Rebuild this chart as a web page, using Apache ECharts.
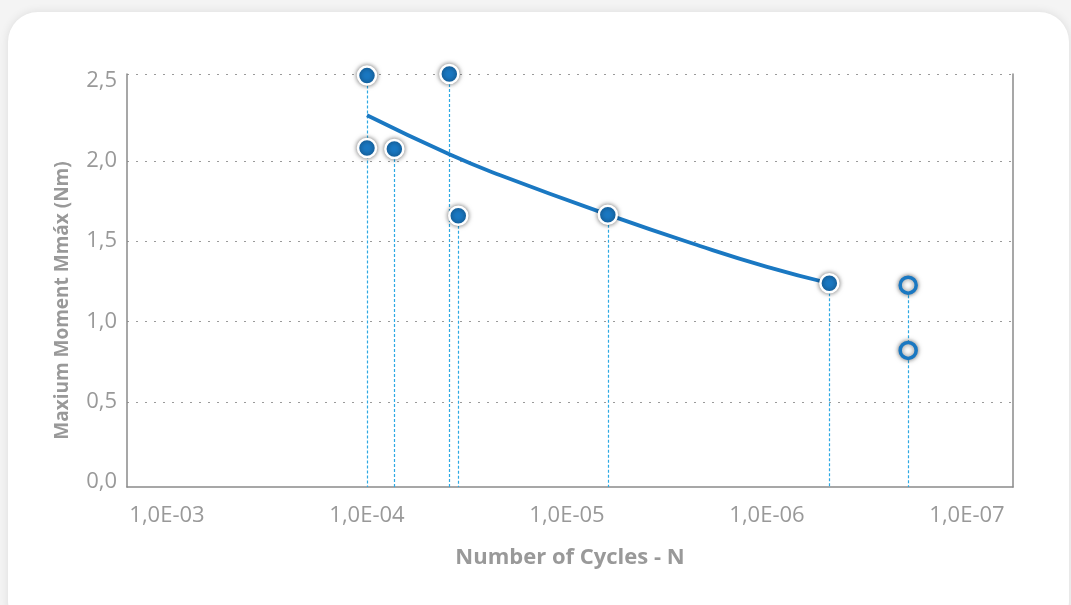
<!DOCTYPE html>
<html>
<head>
<meta charset="utf-8">
<script src="https://cdn.jsdelivr.net/npm/echarts@6/dist/echarts.min.js"></script>
<style>
  html, body { margin: 0; padding: 0; width: 1071px; height: 605px; overflow: hidden; background: #f4f4f4; }
  #card { position: absolute; left: 8px; top: 12px; width: 1061px; height: 620px; background: #ffffff;
          border-radius: 30px; box-shadow: 0 0 10px rgba(0,0,0,0.10); }
  #chart { position: absolute; left: 0; top: 0; width: 1071px; height: 605px; }
</style>
</head>
<body>
<div id="card"></div>
<div id="chart"></div>
<script>
// ---- data ----
// Failure points (filled markers): number of cycles N, maximum moment (Nm)
const failN = [10000, 10000, 13700, 25800, 28600, 160000, 2050000];
const failM = [2.53, 2.08, 2.073, 2.54, 1.658, 1.664, 1.238];
// Run-out points (open markers)
const runoutN = [5080000, 5080000];
const runoutM = [1.226, 0.82];
// Fitted curve, read at several positions along the drawn line
const curveN = [10000, 25800, 46400, 160000, 462000, 1000000, 2050000];
const curveM = [2.283, 2.04, 1.91, 1.665, 1.47, 1.34, 1.238];
// Axis ticks / labels
const xTickExp = [3, 4, 5, 6, 7];
const xTickLabels = ['1,0E-03', '1,0E-04', '1,0E-05', '1,0E-06', '1,0E-07'];
const yTicks = [0, 0.5, 1.0, 1.5, 2.0, 2.5];
const yTickLabels = ['0,0', '0,5', '1,0', '1,5', '2,0', '2,5'];
const yGridLines = [0.5, 1.0, 1.5, 2.0, 2.54];
const xRange = [2.8, 7.23];     // log10(N) extent of the plot
const yRange = [-0.03, 2.54];   // moment extent of the plot

const lg = v => Math.log10(v);
const pairs = (ns, ms) => ns.map((n, i) => [lg(n), ms[i]]);

const blue = '#1a78c2';
const grey = '#999999';
const font = 'Open Sans';

// one drop line per distinct N, from its highest point down to the x axis
const tops = {};
pairs(failN, failM).concat(pairs(runoutN, runoutM)).forEach(p => {
  const k = p[0].toFixed(4);
  if (!(k in tops) || tops[k][1] < p[1]) tops[k] = p;
});
const dropLines = Object.values(tops).map(p => [
  { coord: [p[0], p[1]] }, { coord: [p[0], yRange[0]] }
]);

const chart = echarts.init(document.getElementById('chart'), null, { renderer: 'canvas' });
chart.setOption({
  animation: false,
  backgroundColor: 'transparent',
  grid: { left: 127, right: 58, top: 74, bottom: 118 },
  xAxis: {
    type: 'value', min: xRange[0], max: xRange[1],
    name: 'Number of Cycles - N', nameLocation: 'middle', nameGap: 60,
    nameTextStyle: { color: grey, fontFamily: font, fontSize: 22, fontWeight: 'bold' },
    axisLine: { show: true, onZero: false, lineStyle: { color: '#8a8a8a', width: 1.5 } },
    axisTick: { show: false },
    splitLine: { show: false },
    axisLabel: {
      customValues: xTickExp, margin: 18, color: grey, fontFamily: font, fontSize: 22,
      formatter: v => xTickLabels[xTickExp.indexOf(Math.round(v))]
    }
  },
  yAxis: [{
    type: 'value', min: yRange[0], max: yRange[1],
    name: 'Maxium Moment Mmáx (Nm)', nameLocation: 'middle', nameGap: 55, nameRotate: 90,
    nameTextStyle: { color: grey, fontFamily: font, fontSize: 19, fontWeight: 'bold', padding: [0, 40, 0, 0] },
    axisLine: { show: true, onZero: false, lineStyle: { color: '#8a8a8a', width: 1.5 } },
    axisTick: { show: false, customValues: yGridLines },
    axisLabel: {
      customValues: yTicks, margin: 10, color: grey, fontFamily: font, fontSize: 22,
      formatter: v => yTickLabels[yTicks.indexOf(Math.round(v * 2) / 2)]
    },
    splitLine: { show: true, lineStyle: { color: '#9a9a9a', width: 1, type: [2, 7] } }
  }, {
    type: 'value', min: yRange[0], max: yRange[1], position: 'right',
    axisLine: { show: true, onZero: false, lineStyle: { color: '#8a8a8a', width: 1.5 } },
    axisTick: { show: false }, axisLabel: { show: false }, splitLine: { show: false }
  }],
  series: [
    {
      type: 'scatter', data: [], z: 1, silent: true,
      markLine: {
        z: 1, silent: true, symbol: ['none', 'none'], label: { show: false },
        lineStyle: { color: '#2ea9e3', width: 1.2, type: [3, 2], opacity: 1 },
        emphasis: { disabled: true },
        data: dropLines
      }
    },
    {
      type: 'line', data: pairs(curveN, curveM), smooth: true, symbol: 'none', z: 2,
      lineStyle: { color: blue, width: 3.8 }
    },
    {
      type: 'scatter', data: pairs(failN, failM), symbol: 'circle', symbolSize: 18, z: 10,
      itemStyle: { color: blue, borderColor: '#ffffff', borderWidth: 2.5, opacity: 1,
                   shadowBlur: 5, shadowColor: 'rgba(0,0,0,0.5)' }
    },
    {
      type: 'scatter', data: pairs(runoutN, runoutM), symbol: 'circle', symbolSize: 16, z: 10,
      itemStyle: { color: '#ffffff', borderColor: blue, borderWidth: 3.5, opacity: 1,
                   shadowBlur: 5, shadowColor: 'rgba(0,0,0,0.5)' }
    }
  ]
});
</script>
</body>
</html>
